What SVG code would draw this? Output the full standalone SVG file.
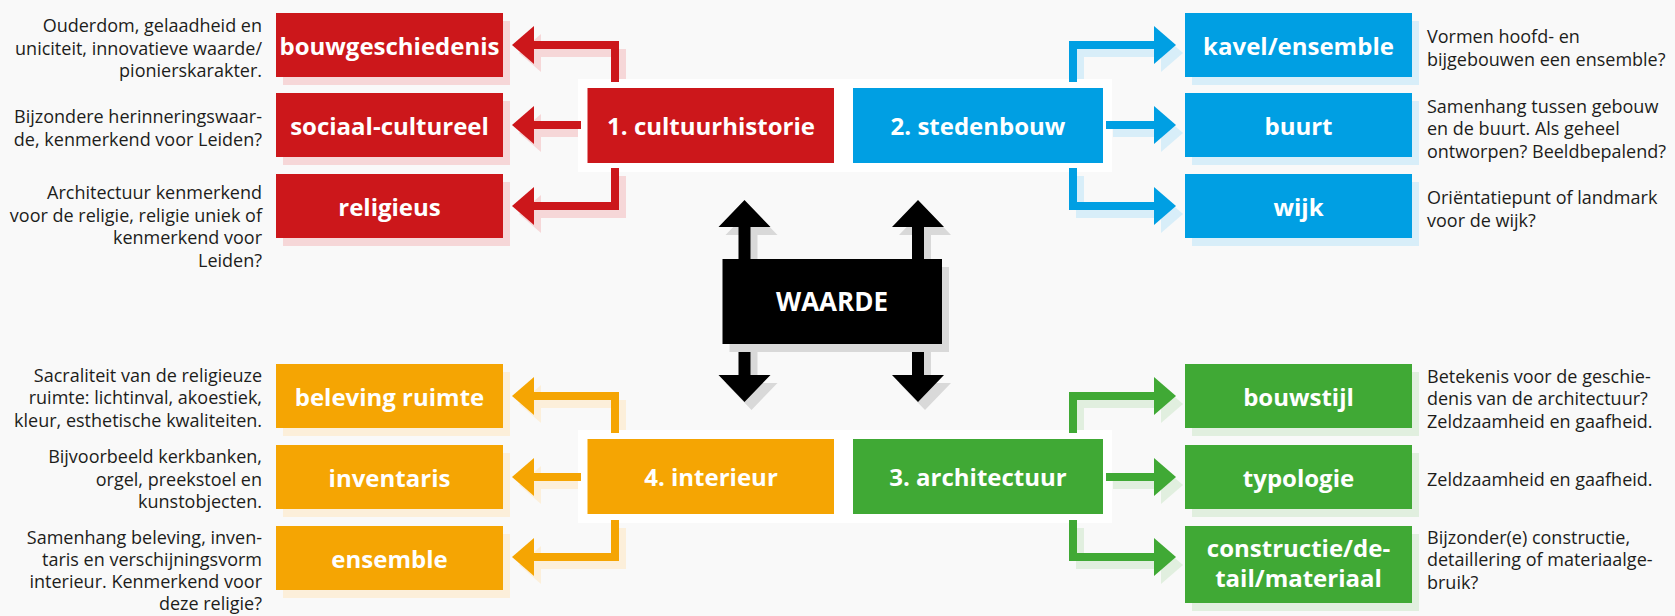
<svg xmlns="http://www.w3.org/2000/svg" width="1675" height="616" viewBox="0 0 1675 616">
<style>
.bg{fill:#f9f9f9}
.red{fill:#cc171b}.blue{fill:#009fe3}.orange{fill:#f5a503}.green{fill:#40a935}.black{fill:#000}
.sred{fill:#f6d7d8}.sblue{fill:#d8eef9}.sorange{fill:#fcefda}.sgreen{fill:#e1efdf}.sgray{fill:#d9d9d9}
.lred{stroke:#cc171b}.lblue{stroke:#009fe3}.lorange{stroke:#f5a503}.lgreen{stroke:#40a935}
.slred{stroke:#f6d7d8}.slblue{stroke:#d8eef9}.slorange{stroke:#fcefda}.slgreen{stroke:#e1efdf}
.ln{fill:none;stroke-width:8;stroke-linejoin:miter;stroke-linecap:butt}
.lbl{font-family:"Open Sans","Liberation Sans",sans-serif;font-weight:700;font-size:24px;fill:#fff;text-anchor:middle}
.desc{font-family:"Open Sans","Liberation Sans",sans-serif;font-size:18px;fill:#1d1d1b}
.dl{text-anchor:end}
.dr{text-anchor:start}
</style>
<rect class="bg" x="0" y="0" width="1675" height="616"/>

<!-- connector shadows -->
<g id="connector-shadows" transform="translate(7,8)">
  <path class="ln slred" d="M534 45H615V82M534 125H581M534 206H615V168"/>
  <polygon class="sred" points="512,45 534,26 534,64"/>
  <polygon class="sred" points="512,125 534,106 534,144"/>
  <polygon class="sred" points="512,206 534,187 534,225"/>
  <path class="ln slblue" d="M1154 45H1073V82M1106 125H1154M1154 206H1073V168"/>
  <polygon class="sblue" points="1176,45 1154,26 1154,64"/>
  <polygon class="sblue" points="1176,125 1154,106 1154,144"/>
  <polygon class="sblue" points="1176,206 1154,187 1154,225"/>
  <path class="ln slorange" d="M534 396H615V433M534 477H581M534 557H615V520"/>
  <polygon class="sorange" points="512,396 534,377 534,415"/>
  <polygon class="sorange" points="512,477 534,458 534,496"/>
  <polygon class="sorange" points="512,557 534,538 534,576"/>
  <path class="ln slgreen" d="M1154 396H1073V433M1106 477H1154M1154 557H1073V520"/>
  <polygon class="sgreen" points="1176,396 1154,377 1154,415"/>
  <polygon class="sgreen" points="1176,477 1154,458 1154,496"/>
  <polygon class="sgreen" points="1176,557 1154,538 1154,576"/>
  <polygon class="sgray" points="744.5,200 770.5,227 750.5,227 750.5,375 770.5,375 744.5,402 718.5,375 738.5,375 738.5,227 718.5,227"/>
  <polygon class="sgray" points="918,200 944,227 924,227 924,375 944,375 918,402 892,375 912,375 912,227 892,227"/>
</g>

<!-- white backings -->
<rect x="578" y="79" width="534" height="93" fill="#fff"/>
<rect x="578" y="430" width="534" height="93" fill="#fff"/>

<!-- connectors -->
<g id="connectors">
  <path class="ln lred" d="M534 45H615V82M534 125H581M534 206H615V168"/>
  <polygon class="red" points="512,45 534,26 534,64"/>
  <polygon class="red" points="512,125 534,106 534,144"/>
  <polygon class="red" points="512,206 534,187 534,225"/>
  <path class="ln lblue" d="M1154 45H1073V82M1106 125H1154M1154 206H1073V168"/>
  <polygon class="blue" points="1176,45 1154,26 1154,64"/>
  <polygon class="blue" points="1176,125 1154,106 1154,144"/>
  <polygon class="blue" points="1176,206 1154,187 1154,225"/>
  <path class="ln lorange" d="M534 396H615V433M534 477H581M534 557H615V520"/>
  <polygon class="orange" points="512,396 534,377 534,415"/>
  <polygon class="orange" points="512,477 534,458 534,496"/>
  <polygon class="orange" points="512,557 534,538 534,576"/>
  <path class="ln lgreen" d="M1154 396H1073V433M1106 477H1154M1154 557H1073V520"/>
  <polygon class="green" points="1176,396 1154,377 1154,415"/>
  <polygon class="green" points="1176,477 1154,458 1154,496"/>
  <polygon class="green" points="1176,557 1154,538 1154,576"/>
  <polygon class="black" points="744.5,200 770.5,227 750.5,227 750.5,375 770.5,375 744.5,402 718.5,375 738.5,375 738.5,227 718.5,227"/>
  <polygon class="black" points="918,200 944,227 924,227 924,375 944,375 918,402 892,375 912,375 912,227 892,227"/>
</g>

<!-- central node -->
<g id="waarde">
  <rect class="sgray" x="729.5" y="267" width="219.5" height="85"/>
  <rect class="black" x="722.5" y="259" width="219.5" height="85"/>
  <text class="lbl" x="832" y="311" style="font-size:26px">WAARDE</text>
</g>

<!-- category nodes -->
<g id="cultuurhistorie">
  <rect class="red" x="587.5" y="88" width="246.5" height="75"/>
  <text class="lbl" x="711" y="135">1. cultuurhistorie</text>
</g>
<g id="stedenbouw">
  <rect class="blue" x="853" y="88" width="250" height="75"/>
  <text class="lbl" x="978" y="135">2. stedenbouw</text>
</g>
<g id="interieur">
  <rect class="orange" x="587.5" y="439" width="246.5" height="75"/>
  <text class="lbl" x="711" y="486">4. interieur</text>
</g>
<g id="architectuur">
  <rect class="green" x="853" y="439" width="250" height="75"/>
  <text class="lbl" x="978" y="486">3. architectuur</text>
</g>

<!-- left red nodes -->
<g id="bouwgeschiedenis">
  <rect class="sred" x="283" y="21" width="227" height="64"/>
  <rect class="red" x="276" y="13" width="227" height="64"/>
  <text class="lbl" x="389.5" y="54.5">bouwgeschiedenis</text>
  <text class="desc dl" x="262"><tspan x="262" y="32">Ouderdom, gelaadheid en</tspan><tspan x="262" y="54.5">uniciteit, innovatieve waarde/</tspan><tspan x="262" y="77">pionierskarakter.</tspan></text>
</g>
<g id="sociaal-cultureel">
  <rect class="sred" x="283" y="101" width="227" height="64"/>
  <rect class="red" x="276" y="93" width="227" height="64"/>
  <text class="lbl" x="389.5" y="134.5">sociaal-cultureel</text>
  <text class="desc dl" x="262"><tspan x="262" y="123">Bijzondere herinneringswaar-</tspan><tspan x="262" y="145.5">de, kenmerkend voor Leiden?</tspan></text>
</g>
<g id="religieus">
  <rect class="sred" x="283" y="182" width="227" height="64"/>
  <rect class="red" x="276" y="174" width="227" height="64"/>
  <text class="lbl" x="389.5" y="215.5">religieus</text>
  <text class="desc dl" x="262"><tspan x="262" y="199">Architectuur kenmerkend</tspan><tspan x="262" y="221.5">voor de religie, religie uniek of</tspan><tspan x="262" y="244">kenmerkend voor</tspan><tspan x="262" y="266.5">Leiden?</tspan></text>
</g>

<!-- right blue nodes -->
<g id="kavel-ensemble">
  <rect class="sblue" x="1192" y="21" width="227" height="64"/>
  <rect class="blue" x="1185" y="13" width="227" height="64"/>
  <text class="lbl" x="1298.5" y="54.5">kavel/ensemble</text>
  <text class="desc dr"><tspan x="1427" y="43">Vormen hoofd- en</tspan><tspan x="1427" y="65.5">bijgebouwen een ensemble?</tspan></text>
</g>
<g id="buurt">
  <rect class="sblue" x="1192" y="101" width="227" height="64"/>
  <rect class="blue" x="1185" y="93" width="227" height="64"/>
  <text class="lbl" x="1298.5" y="134.5">buurt</text>
  <text class="desc dr"><tspan x="1427" y="112.5">Samenhang tussen gebouw</tspan><tspan x="1427" y="135">en de buurt. Als geheel</tspan><tspan x="1427" y="157.5">ontworpen? Beeldbepalend?</tspan></text>
</g>
<g id="wijk">
  <rect class="sblue" x="1192" y="182" width="227" height="64"/>
  <rect class="blue" x="1185" y="174" width="227" height="64"/>
  <text class="lbl" x="1298.5" y="215.5">wijk</text>
  <text class="desc dr"><tspan x="1427" y="204">Oriëntatiepunt of landmark</tspan><tspan x="1427" y="226.5">voor de wijk?</tspan></text>
</g>

<!-- left orange nodes -->
<g id="beleving-ruimte">
  <rect class="sorange" x="283" y="372" width="227" height="64"/>
  <rect class="orange" x="276" y="364" width="227" height="64"/>
  <text class="lbl" x="389.5" y="405.5">beleving ruimte</text>
  <text class="desc dl"><tspan x="262" y="381.5">Sacraliteit van de religieuze</tspan><tspan x="262" y="404">ruimte: lichtinval, akoestiek,</tspan><tspan x="262" y="426.5">kleur, esthetische kwaliteiten.</tspan></text>
</g>
<g id="inventaris">
  <rect class="sorange" x="283" y="453" width="227" height="64"/>
  <rect class="orange" x="276" y="445" width="227" height="64"/>
  <text class="lbl" x="389.5" y="486.5">inventaris</text>
  <text class="desc dl"><tspan x="262" y="463">Bijvoorbeeld kerkbanken,</tspan><tspan x="262" y="485.5">orgel, preekstoel en</tspan><tspan x="262" y="508">kunstobjecten.</tspan></text>
</g>
<g id="ensemble">
  <rect class="sorange" x="283" y="534" width="227" height="64"/>
  <rect class="orange" x="276" y="526" width="227" height="64"/>
  <text class="lbl" x="389.5" y="567.5">ensemble</text>
  <text class="desc dl"><tspan x="262" y="544">Samenhang beleving, inven-</tspan><tspan x="262" y="566">taris en verschijningsvorm</tspan><tspan x="262" y="588">interieur. Kenmerkend voor</tspan><tspan x="262" y="610">deze religie?</tspan></text>
</g>

<!-- right green nodes -->
<g id="bouwstijl">
  <rect class="sgreen" x="1192" y="372" width="227" height="64"/>
  <rect class="green" x="1185" y="364" width="227" height="64"/>
  <text class="lbl" x="1298.5" y="405.5">bouwstijl</text>
  <text class="desc dr"><tspan x="1427" y="382.5">Betekenis voor de geschie-</tspan><tspan x="1427" y="405">denis van de architectuur?</tspan><tspan x="1427" y="427.5">Zeldzaamheid en gaafheid.</tspan></text>
</g>
<g id="typologie">
  <rect class="sgreen" x="1192" y="453" width="227" height="64"/>
  <rect class="green" x="1185" y="445" width="227" height="64"/>
  <text class="lbl" x="1298.5" y="486.5">typologie</text>
  <text class="desc dr"><tspan x="1427" y="485.5">Zeldzaamheid en gaafheid.</tspan></text>
</g>
<g id="constructie">
  <rect class="sgreen" x="1192" y="534" width="227" height="77"/>
  <rect class="green" x="1185" y="526" width="227" height="77"/>
  <text class="lbl"><tspan x="1298.5" y="556.5">constructie/de-</tspan><tspan x="1298.5" y="587">tail/materiaal</tspan></text>
  <text class="desc dr"><tspan x="1427" y="544">Bijzonder(e) constructie,</tspan><tspan x="1427" y="566">detaillering of materiaalge-</tspan><tspan x="1427" y="588.5">bruik?</tspan></text>
</g>
</svg>
